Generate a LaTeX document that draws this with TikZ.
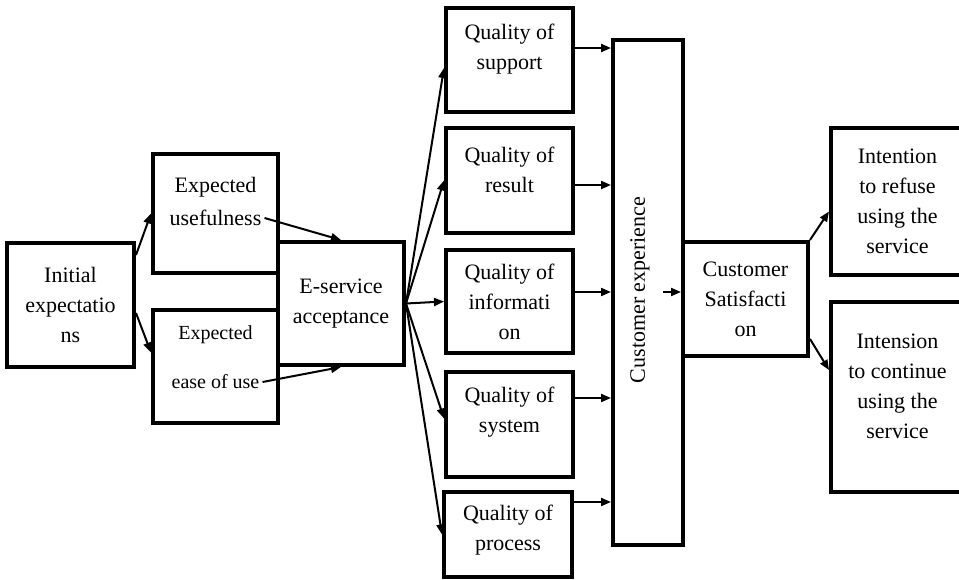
\documentclass[tikz,border=0pt]{standalone}
\usepackage{fontspec}
\setmainfont{Liberation Serif}
\usetikzlibrary{arrows.meta}

\tikzset{
	box/.style={draw,line width=4pt,inner sep=0pt,align=center,font=\fontsize{22}{30}\selectfont},
	lbl/.style={align=center,inner sep=3pt,font=\fontsize{22}{30}\selectfont},
	small/.style={font=\fontsize{20}{24}\selectfont},
	arr/.style={-{Triangle[length=10pt,width=8pt]},line width=2pt}
}

\begin{document}
\begin{tikzpicture}[x=1pt,y=-1pt]
			\useasboundingbox (0,0) rectangle (959,580);
			\clip (0,0) rectangle (959,580);
			\node[box,minimum width=127pt,minimum height=124pt] (init) at (70.5,305) {Initial\\expectatio\\ns};
			\node[box,minimum width=125pt,minimum height=119pt] (use) at (215.5,213.5) {};
			\node[lbl] (usetop) at (215.5,187) {Expected};
			\node[lbl] (usetxt) at (215.5,218) {usefulness};
			\node[box,minimum width=125pt,minimum height=113pt] (ease) at (215.5,366.5) {};
			\node[lbl,small] (easetop) at (215.5,335) {Expected};
			\node[lbl,small] (easetxt) at (215.5,382) {ease of use};
			\node[box,minimum width=126pt,minimum height=123pt] (esa) at (341,303.5) {E-service\\acceptance};
			\node[box,minimum width=127pt,minimum height=104pt] (sup) at (509.5,60) {};
			\node[lbl] (suptxt) at (509.5,49) {Quality of\\support};
			\node[box,minimum width=127pt,minimum height=105pt] (res) at (509.5,180.5) {};
			\node[lbl] (restxt) at (509.5,170) {Quality of\\result};
			\node[box,minimum width=127pt,minimum height=103pt] (inf) at (509.5,301.5) {Quality of\\informati\\on};
			\node[box,minimum width=127pt,minimum height=105pt] (sys) at (509.5,424.5) {};
			\node[lbl] (systxt) at (509.5,412) {Quality of\\system};
			\node[box,minimum width=128pt,minimum height=85pt] (pro) at (508,534.5) {};
			\node[lbl] (protxt) at (508,530) {Quality of\\process};
			\node[box,minimum width=70pt,minimum height=505pt] (ce) at (648,292.5) {};
			\node[lbl,rotate=90] (cetxt) at (640,290) {Customer experience};
			\node[box,minimum width=125pt,minimum height=114pt] (cs) at (745.5,299) {Customer\\Satisfacti\\on};
			\node[box,minimum width=133pt,minimum height=147pt] (ref) at (897.5,201.5) {Intention\\to refuse\\using the\\service};
			\node[box,minimum width=133pt,minimum height=190pt] (con) at (897.5,397) {};
			\node[lbl] (contxt) at (897.5,386) {Intension\\to continue\\using the\\service};
			\coordinate (cein) at (663,292);
			\draw[arr] ([yshift=-14pt]init.north east) -- (use.west);
			\draw[arr] ([yshift=-8pt]init.east) -- ([yshift=14pt]ease.west);
			\draw[arr] (usetxt.east) -- (esa.north);
			\draw[arr] (easetxt.east) -- (esa.south);
			\draw[arr] (esa.east) -- ([yshift=-8pt]sup.west);
			\draw[arr] (esa.east) -- (res.west);
			\draw[arr] (esa.east) -- (inf.west);
			\draw[arr] (esa.east) -- ([yshift=6pt]sys.west);
			\draw[arr] (esa.east) -- (pro.west);
			\draw[arr] (sup.east |- 0,48) -- (ce.west |- 0,48);
			\draw[arr] (res.east |- 0,185) -- (ce.west |- 0,185);
			\draw[arr] (inf.east |- 0,292) -- (ce.west |- 0,292);
			\draw[arr] (sys.east |- 0,398) -- (ce.west |- 0,398);
			\draw[arr] (pro.east |- 0,502) -- (ce.west |- 0,502);
			\draw[arr] (cein) -- (cs.west |- cein);
			\draw[arr] (cs.north east) -- ([yshift=-10pt]ref.west);
			\draw[arr] ([yshift=19pt]cs.south east) -- ([yshift=27pt]con.west);
		\end{tikzpicture}
\end{document}
